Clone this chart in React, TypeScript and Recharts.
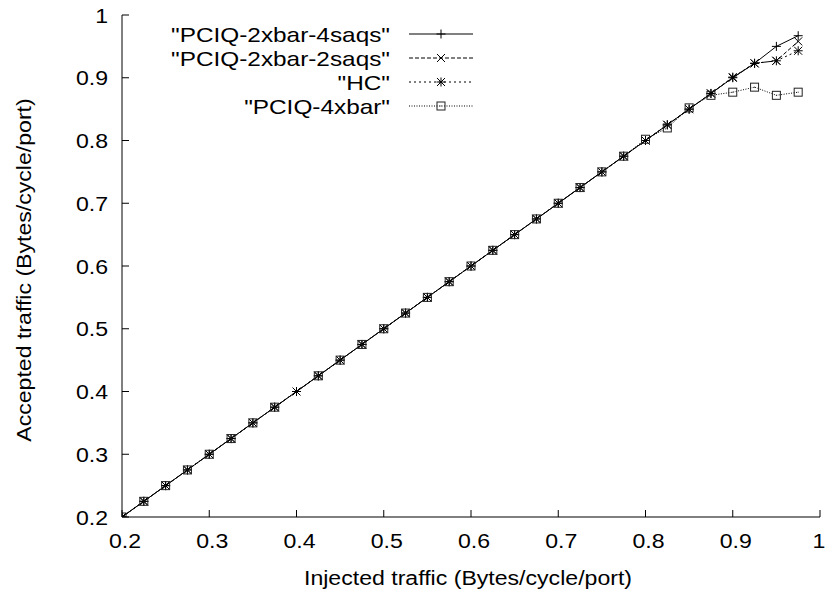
import React from 'react';
import { LineChart, Line, XAxis, YAxis } from 'recharts';

const injected = [
  0.2, 0.225, 0.25, 0.275, 0.3, 0.325, 0.35, 0.375, 0.4, 0.425, 0.45, 0.475,
  0.5, 0.525, 0.55, 0.575, 0.6, 0.625, 0.65, 0.675, 0.7, 0.725, 0.75, 0.775,
  0.8, 0.825, 0.85, 0.875, 0.9, 0.925, 0.95, 0.975,
];

const saqs4 = [
  0.2, 0.225, 0.25, 0.275, 0.3, 0.325, 0.35, 0.375, null, 0.425, 0.45, 0.475,
  0.5, 0.525, 0.55, 0.575, 0.6, 0.625, 0.65, 0.675, 0.7, 0.725, 0.75, 0.775,
  0.8, 0.825, 0.85, 0.875, 0.9, 0.923, 0.95, 0.967,
];

const saqs2 = [
  0.2, 0.225, 0.25, 0.275, 0.3, 0.325, 0.35, 0.375, null, 0.425, 0.45, 0.475,
  0.5, 0.525, 0.55, 0.575, 0.6, 0.625, 0.65, 0.675, 0.7, 0.725, 0.75, 0.775,
  0.8, 0.825, 0.85, 0.875, 0.9, 0.923, 0.927, 0.958,
];

const hc = [
  0.2, 0.225, 0.25, 0.275, 0.3, 0.325, 0.35, 0.375, 0.4, 0.425, 0.45, 0.475,
  0.5, 0.525, 0.55, 0.575, 0.6, 0.625, 0.65, 0.675, 0.7, 0.725, 0.75, 0.775,
  0.8, 0.825, 0.85, 0.875, 0.901, 0.923, 0.927, 0.943,
];

const xbar4 = [
  0.2, 0.225, 0.25, 0.275, 0.3, 0.325, 0.35, 0.375, null, 0.425, 0.45, 0.475,
  0.5, 0.525, 0.55, 0.575, 0.6, 0.625, 0.65, 0.675, 0.7, 0.725, 0.75, 0.775,
  0.802, 0.82, 0.852, 0.872, 0.877, 0.885, 0.872, 0.877,
];

const xTicks = [0.2, 0.3, 0.4, 0.5, 0.6, 0.7, 0.8, 0.9, 1];
const yTicks = [0.2, 0.3, 0.4, 0.5, 0.6, 0.7, 0.8, 0.9, 1];

const seriesNames = ['"PCIQ-2xbar-4saqs"', '"PCIQ-2xbar-2saqs"', '"HC"', '"PCIQ-4xbar"'];

const data = injected.map((x, i) => ({
  x,
  a: saqs4[i],
  b: saqs2[i],
  c: hc[i],
  d: xbar4[i],
}));

const FONT = '"Liberation Sans", Arial, Helvetica, sans-serif';

function SText({ x, y, children, anchor = 'middle', rotate = 0, sx = 1.1 }: any) {
  return (
    <text
      transform={`translate(${x},${y}) rotate(${rotate}) scale(${sx},1)`}
      textAnchor={anchor}
      fontFamily={FONT}
      fontSize={21}
      fill="#000"
    >
      {children}
    </text>
  );
}

type Mk = 'plus' | 'cross' | 'star' | 'box';

function markerPath(kind: Mk, cx: number, cy: number) {
  const p = `M${cx - 4.5},${cy}H${cx + 4.5}M${cx},${cy - 4.5}V${cy + 4.5}`;
  const c = `M${cx - 4},${cy - 4}L${cx + 4},${cy + 4}M${cx - 4},${cy + 4}L${cx + 4},${cy - 4}`;
  if (kind === 'plus') return <path d={p} stroke="#000" strokeWidth={1} fill="none" />;
  if (kind === 'cross') return <path d={c} stroke="#000" strokeWidth={1} fill="none" />;
  if (kind === 'star') return <path d={p + c} stroke="#000" strokeWidth={1} fill="none" />;
  return (
    <g>
      <rect x={cx - 4} y={cy - 4} width={8} height={8} stroke="#222" strokeWidth={1} fill="none" />
      <rect x={cx - 0.5} y={cy - 0.5} width={1} height={1} fill="#222" />
    </g>
  );
}

const makeDot = (kind: Mk) => (props: any) => {
  const { cx, cy, index, value } = props;
  if (cx == null || cy == null || value == null) return <g key={`${kind}-${index}`} />;
  return <g key={`${kind}-${index}`}>{markerPath(kind, cx, cy)}</g>;
};

const styles: { key: string; kind: Mk; dash?: string }[] = [
  { key: 'a', kind: 'plus' },
  { key: 'b', kind: 'cross', dash: '4 2' },
  { key: 'c', kind: 'star', dash: '2 3' },
  { key: 'd', kind: 'box', dash: '1 1.5' },
];

const BottomTick = ({ x, y, payload }: any) => (
  <g>
    <line x1={x} y1={y} x2={x} y2={y - 7} stroke="#000" />
    <SText x={x + (payload.value === 1 ? -1 : 3)} y={y + 31}>{String(payload.value)}</SText>
  </g>
);
const TopTick = ({ x, y }: any) => (
  <line x1={x} y1={y} x2={x} y2={y + 7} stroke="#000" />
);
const LeftTick = ({ x, y, payload }: any) => (
  <g>
    <line x1={x} y1={y} x2={x + 7} y2={y} stroke="#000" />
    <SText x={x - 14} y={y + 7.5} anchor="end">{String(payload.value)}</SText>
  </g>
);
const RightTick = ({ x, y }: any) => (
  <line x1={x} y1={y} x2={x - 7} y2={y} stroke="#000" />
);

function LegendBox() {
  return (
    <g>
      {styles.map((s, i) => {
        const y = 34 + i * 24;
        return (
          <g key={s.key}>
            <SText x={390} y={y + 7.5} anchor="end" sx={1.16}>{seriesNames[i]}</SText>
            <line x1={409} y1={y} x2={473} y2={y} stroke="#000" strokeWidth={1} strokeDasharray={s.dash} />
            {markerPath(s.kind, 441, y)}
          </g>
        );
      })}
    </g>
  );
}

export default function App() {
  return (
    <div style={{ position: 'absolute', left: 0, top: 0, width: 827, height: 595, background: '#fff' }}>
      <LineChart
        width={827}
        height={595}
        data={data}
        margin={{ top: 15, right: 7, bottom: 48, left: 62 }}
      >
        <XAxis
          xAxisId="b"
          dataKey="x"
          type="number"
          domain={[0.2, 1]}
          ticks={xTicks}
          interval={0}
          allowDataOverflow
          height={30}
          tickSize={0}
          tickMargin={0}
          tickLine={false}
          axisLine={{ stroke: '#000' }}
          tick={<BottomTick />}
        />
        <XAxis
          xAxisId="t"
          orientation="top"
          dataKey="x"
          type="number"
          domain={[0.2, 1]}
          ticks={xTicks}
          interval={0}
          allowDataOverflow
          height={0}
          tickSize={0}
          tickMargin={0}
          tickLine={false}
          axisLine={{ stroke: '#000' }}
          tick={<TopTick />}
        />
        <YAxis
          yAxisId="l"
          type="number"
          domain={[0.2, 1]}
          ticks={yTicks}
          interval={0}
          allowDataOverflow
          width={60}
          tickSize={0}
          tickMargin={0}
          tickLine={false}
          axisLine={{ stroke: '#000' }}
          tick={<LeftTick />}
        />
        <YAxis
          yAxisId="r"
          orientation="right"
          type="number"
          domain={[0.2, 1]}
          ticks={yTicks}
          interval={0}
          allowDataOverflow
          width={0}
          tickSize={0}
          tickMargin={0}
          tickLine={false}
          axisLine={{ stroke: '#000' }}
          tick={<RightTick />}
        />
        {styles.map((s) => (
          <Line
            key={s.key}
            xAxisId="b"
            yAxisId="l"
            type="linear"
            dataKey={s.key}
            stroke="#000"
            strokeWidth={1}
            strokeDasharray={s.dash}
            dot={makeDot(s.kind)}
            activeDot={false}
            connectNulls
            isAnimationActive={false}
          />
        ))}
        <SText x={468} y={585}>Injected traffic (Bytes/cycle/port)</SText>
        <SText x={31} y={270} rotate={-90}>Accepted traffic (Bytes/cycle/port)</SText>
        <LegendBox />
      </LineChart>
    </div>
  );
}
